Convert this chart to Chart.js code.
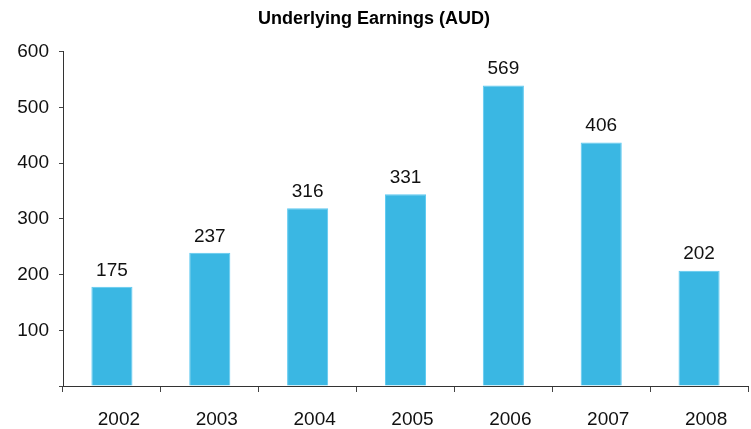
<!DOCTYPE html>
<html lang="en">
<head>
  <meta charset="UTF-8">
  <title>Underlying Earnings (AUD)</title>
  <script src="https://cdn.jsdelivr.net/npm/chart.js"></script>
  <style>
    html, body { margin: 0; padding: 0; background: #fff; }
    #wrap { width: 751px; height: 429px; }
  </style>
</head>
<body>
  <div id="wrap"><canvas id="earnChart" width="751" height="429"></canvas></div>

  <script>
    // data
    const years = ['2002', '2003', '2004', '2005', '2006', '2007', '2008'];
    const barValues = [178, 239, 319, 344, 539, 437, 207];
    const barLabels = ['175', '237', '316', '331', '569', '406', '202'];
    const yTicks = [0, 100, 200, 300, 400, 500, 600];

    const FONT = 'Arial, "Liberation Sans", sans-serif';

    // value text above each bar
    const barText = {
      id: 'barText',
      afterDatasetsDraw(chart) {
        const ctx = chart.ctx;
        const meta = chart.getDatasetMeta(0);
        ctx.save();
        ctx.font = '19px ' + FONT;
        ctx.fillStyle = '#111';
        ctx.textAlign = 'center';
        ctx.textBaseline = 'bottom';
        meta.data.forEach((bar, i) => {
          ctx.fillText(barLabels[i], bar.x, bar.y - 7);
        });
        ctx.restore();
      }
    };

    new Chart(document.getElementById('earnChart'), {
      type: 'bar',
      data: {
        labels: years,
        datasets: [{
          data: barValues,
          backgroundColor: '#3ab7e3',
          borderColor: '#5cc9f1',
          borderWidth: 1,
          barPercentage: 0.42,
          categoryPercentage: 1
        }]
      },
      options: {
        responsive: false,
        animation: false,
        layout: { padding: { left: 0, right: 3, top: 0, bottom: 0 } },
        plugins: {
          legend: { display: false },
          tooltip: { enabled: false },
          title: {
            display: true,
            text: 'Underlying Earnings (AUD)',
            color: '#000',
            font: { family: FONT, size: 18, weight: 'bold' },
            padding: { top: 8, bottom: 22 }
          }
        },
        scales: {
          x: {
            offset: true,
            grid: {
              offset: true,
              drawOnChartArea: false,
              drawTicks: true,
              tickLength: 6,
              color: '#444'
            },
            border: { color: '#333', width: 1 },
            ticks: {
              color: '#111',
              font: { family: FONT, size: 19 },
              padding: 16,
              labelOffset: 7,
              maxRotation: 0
            },
            afterFit(scale) { scale.height = 43; }
          },
          y: {
            min: 0,
            max: 600,
            afterBuildTicks(scale) {
              scale.ticks = yTicks.map(v => ({ value: v }));
            },
            grid: {
              drawOnChartArea: false,
              drawTicks: true,
              tickLength: 4,
              color: '#444'
            },
            border: { color: '#333', width: 1 },
            ticks: {
              color: '#111',
              font: { family: FONT, size: 19 },
              padding: 10,
              callback: v => (v === 0 ? '' : v)
            },
            afterFit(scale) { scale.width = 63; }
          }
        }
      },
      plugins: [barText]
    });
  </script>
</body>
</html>
